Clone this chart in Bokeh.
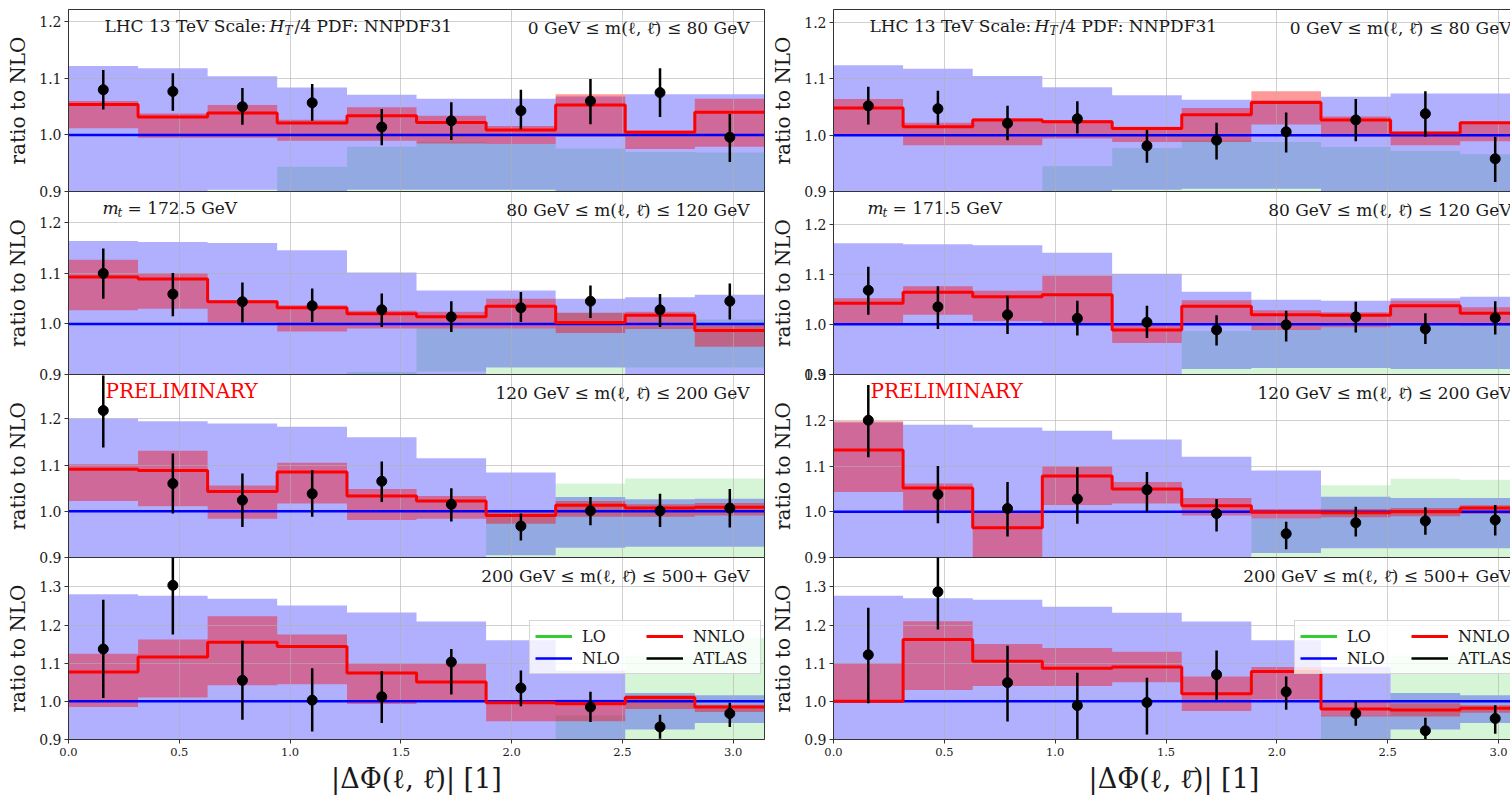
from bokeh.plotting import figure
from bokeh.layouts import row, column
from bokeh.models import (FixedTicker, NumeralTickFormatter, Label, Legend,
                          LegendItem, Range1d)
from bokeh.embed import file_html
from bokeh.resources import INLINE

# ---------------- data ----------------
bin_edges = [0.0, 0.314, 0.628, 0.942, 1.257, 1.571, 1.885, 2.199, 2.513, 2.827, 3.142]
bin_centers = [0.157, 0.471, 0.785, 1.100, 1.414, 1.728, 2.042, 2.356, 2.670, 2.985]
x_ticks = [0.0, 0.5, 1.0, 1.5, 2.0, 2.5, 3.0]
y_ticks_small = [0.9, 1.0, 1.1, 1.2]
y_ticks_large = [0.9, 1.0, 1.1, 1.2, 1.3]
mass_windows = ["0 GeV \u2264 m(\u2113, \u2113\u0304) \u2264 80 GeV",
                "80 GeV \u2264 m(\u2113, \u2113\u0304) \u2264 120 GeV",
                "120 GeV \u2264 m(\u2113, \u2113\u0304) \u2264 200 GeV",
                "200 GeV \u2264 m(\u2113, \u2113\u0304) \u2264 500+ GeV"]
top_mass = {"left": "= 172.5 GeV", "right": "= 171.5 GeV"}
legend_labels = ["LO", "NLO", "NNLO", "ATLAS"]

nlo_central = [1.0, 1.0, 1.0, 1.0, 1.0, 1.0, 1.0, 1.0, 1.0, 1.0]

# left column (m_t = 172.5 GeV), panels top -> bottom
left_nnlo = [
    [1.054, 1.032, 1.039, 1.021, 1.034, 1.022, 1.009, 1.053, 1.005, 1.040],
    [1.093, 1.089, 1.044, 1.032, 1.020, 1.014, 1.035, 1.003, 1.017, 0.987],
    [1.091, 1.088, 1.043, 1.085, 1.033, 1.022, 0.991, 1.013, 1.007, 1.009],
    [1.077, 1.116, 1.155, 1.144, 1.074, 1.051, 0.996, 0.994, 1.010, 0.985]]
left_nnlo_hi = [
    [1.060, 1.038, 1.053, 1.027, 1.049, 1.034, 1.016, 1.072, 1.008, 1.064],
    [1.127, 1.101, 1.047, 1.037, 1.026, 1.024, 1.050, 1.022, 1.024, 0.999],
    [1.102, 1.131, 1.056, 1.105, 1.048, 1.033, 1.002, 1.022, 1.015, 1.018],
    [1.125, 1.162, 1.223, 1.175, 1.099, 1.099, 1.000, 1.004, 1.016, 0.991]]
left_nnlo_lo = [
    [1.012, 0.995, 0.995, 0.990, 0.990, 0.985, 0.984, 0.997, 0.975, 0.979],
    [1.027, 1.030, 1.003, 0.985, 0.991, 0.991, 0.991, 0.982, 0.990, 0.955],
    [1.022, 1.011, 0.984, 1.017, 0.981, 0.984, 0.973, 0.988, 0.988, 0.991],
    [0.985, 1.010, 1.042, 1.045, 0.993, 1.000, 0.948, 0.948, 0.980, 0.972]]
left_nlo_hi = [
    [1.122, 1.118, 1.104, 1.084, 1.071, 1.064, 1.064, 1.068, 1.072, 1.072],
    [1.164, 1.162, 1.160, 1.146, 1.102, 1.066, 1.066, 1.050, 1.053, 1.058],
    [1.201, 1.195, 1.190, 1.183, 1.160, 1.115, 1.084, 1.031, 1.026, 1.027],
    [1.281, 1.277, 1.269, 1.251, 1.233, 1.209, 1.160, 1.080, 1.022, 1.016]]
left_nlo_lo = [
    [0.880, 0.880, 0.903, 0.880, 0.903, 0.903, 0.903, 0.880, 0.880, 0.880],
    [0.880, 0.880, 0.880, 0.880, 0.880, 0.880, 0.914, 0.914, 0.880, 0.880],
    [0.880, 0.880, 0.880, 0.880, 0.880, 0.880, 0.905, 0.921, 0.923, 0.923],
    [0.880, 0.880, 0.880, 0.880, 0.880, 0.880, 0.880, 0.880, 0.926, 0.943]]
left_lo_hi = [
    [0.880, 0.880, 0.903, 0.944, 0.979, 0.988, 0.984, 0.976, 0.970, 0.969],
    [0.880, 0.880, 0.880, 0.880, 0.905, 0.991, 0.991, 1.022, 0.995, 1.009],
    [0.880, 0.880, 0.880, 0.880, 0.880, 0.880, 0.998, 1.060, 1.071, 1.071],
    [0.880, 0.880, 0.880, 0.880, 0.880, 0.880, 0.880, 0.963, 1.120, 1.166]]
left_lo_lo = [
    [0.800, 0.800, 0.800, 0.800, 0.800, 0.800, 0.800, 0.800, 0.800, 0.800],
    [0.800, 0.800, 0.800, 0.800, 0.800, 0.906, 0.800, 0.800, 0.914, 0.914],
    [0.800, 0.800, 0.800, 0.800, 0.800, 0.800, 0.800, 0.800, 0.800, 0.800],
    [0.800, 0.800, 0.800, 0.800, 0.800, 0.800, 0.800, 0.800, 0.800, 0.800]]
left_atlas = [
    [1.080, 1.077, 1.050, 1.057, 1.014, 1.025, 1.043, 1.060, 1.075, 0.996],
    [1.100, 1.059, 1.044, 1.036, 1.028, 1.014, 1.032, 1.045, 1.028, 1.045],
    [1.218, 1.060, 1.024, 1.038, 1.065, 1.015, 0.968, 1.001, 1.001, 1.007],
    [1.137, 1.304, 1.055, 1.003, 1.012, 1.103, 1.035, 0.985, 0.933, 0.968]]
left_atlas_hi = [
    [1.115, 1.109, 1.083, 1.090, 1.046, 1.058, 1.080, 1.099, 1.118, 1.037],
    [1.149, 1.101, 1.082, 1.070, 1.060, 1.045, 1.063, 1.076, 1.059, 1.080],
    [1.294, 1.125, 1.082, 1.089, 1.108, 1.050, 0.995, 1.031, 1.038, 1.048],
    [1.266, 1.378, 1.159, 1.087, 1.079, 1.137, 1.081, 1.025, 0.965, 0.996]]
left_atlas_lo = [
    [1.045, 1.043, 1.018, 1.025, 0.982, 0.991, 1.010, 1.019, 1.032, 0.952],
    [1.050, 1.015, 1.003, 1.004, 0.994, 0.984, 1.004, 1.012, 0.994, 1.009],
    [1.138, 0.995, 0.966, 0.988, 1.020, 0.978, 0.937, 0.970, 0.966, 0.965],
    [1.009, 1.175, 0.952, 0.921, 0.943, 1.018, 0.987, 0.946, 0.902, 0.933]]

# right column (m_t = 171.5 GeV)
right_nnlo = [
    [1.048, 1.015, 1.027, 1.024, 1.012, 1.036, 1.058, 1.027, 1.004, 1.022],
    [1.042, 1.064, 1.055, 1.059, 0.989, 1.036, 1.019, 1.018, 1.037, 1.022],
    [1.135, 1.052, 0.965, 1.078, 1.050, 1.013, 0.999, 0.998, 1.000, 1.008],
    [1.000, 1.162, 1.105, 1.087, 1.090, 1.020, 1.078, 0.980, 0.977, 0.982]]
right_nnlo_hi = [
    [1.064, 1.022, 1.030, 1.027, 1.015, 1.048, 1.078, 1.033, 1.006, 1.024],
    [1.052, 1.076, 1.067, 1.097, 1.001, 1.048, 1.028, 1.024, 1.047, 1.034],
    [1.198, 1.062, 1.000, 1.100, 1.065, 1.030, 1.006, 1.006, 1.008, 1.014],
    [1.100, 1.210, 1.150, 1.140, 1.130, 1.065, 1.090, 1.000, 0.995, 0.990]]
right_nnlo_lo = [
    [1.000, 0.982, 0.982, 0.994, 0.988, 0.988, 1.019, 0.997, 0.982, 0.989],
    [1.001, 1.019, 1.006, 1.001, 0.963, 1.001, 0.989, 0.994, 1.001, 0.997],
    [1.043, 0.998, 0.890, 1.015, 1.018, 0.992, 0.985, 0.988, 0.990, 0.995],
    [0.998, 1.030, 1.040, 1.040, 1.050, 0.975, 1.005, 0.960, 0.960, 0.970]]
right_nlo_hi = [
    [1.124, 1.118, 1.105, 1.085, 1.071, 1.063, 1.062, 1.068, 1.074, 1.074],
    [1.162, 1.160, 1.158, 1.143, 1.101, 1.065, 1.049, 1.047, 1.052, 1.055],
    [1.195, 1.190, 1.184, 1.177, 1.158, 1.120, 1.090, 1.033, 1.030, 1.030],
    [1.277, 1.270, 1.266, 1.248, 1.232, 1.209, 1.160, 1.090, 1.022, 1.016]]
right_nlo_lo = [
    [0.880, 0.880, 0.880, 0.880, 0.903, 0.905, 0.905, 0.880, 0.880, 0.880],
    [0.880, 0.880, 0.880, 0.880, 0.880, 0.911, 0.913, 0.913, 0.911, 0.911],
    [0.880, 0.880, 0.880, 0.880, 0.880, 0.880, 0.910, 0.920, 0.920, 0.920],
    [0.880, 0.880, 0.880, 0.880, 0.880, 0.880, 0.880, 0.880, 0.926, 0.943]]
right_lo_hi = [
    [0.880, 0.880, 0.880, 0.945, 0.977, 0.991, 0.988, 0.979, 0.972, 0.966],
    [0.880, 0.880, 0.880, 0.880, 0.880, 0.987, 0.989, 0.994, 1.000, 0.997],
    [0.880, 0.880, 0.880, 0.880, 0.880, 0.880, 0.985, 1.058, 1.072, 1.070],
    [0.880, 0.880, 0.880, 0.880, 0.880, 0.880, 0.880, 0.963, 1.120, 1.170]]
right_lo_lo = [
    [0.800, 0.800, 0.800, 0.800, 0.800, 0.800, 0.800, 0.800, 0.800, 0.800],
    [0.800, 0.800, 0.800, 0.800, 0.800, 0.800, 0.800, 0.800, 0.800, 0.800],
    [0.800, 0.800, 0.800, 0.800, 0.800, 0.800, 0.800, 0.800, 0.800, 0.800],
    [0.800, 0.800, 0.800, 0.800, 0.800, 0.800, 0.800, 0.800, 0.800, 0.800]]
right_atlas = [
    [1.052, 1.047, 1.021, 1.029, 0.981, 0.991, 1.006, 1.027, 1.038, 0.958],
    [1.068, 1.035, 1.019, 1.012, 1.004, 0.989, 0.999, 1.015, 0.991, 1.013],
    [1.200, 1.038, 1.007, 1.028, 1.048, 0.996, 0.952, 0.976, 0.980, 0.982],
    [1.122, 1.287, 1.049, 0.989, 0.997, 1.070, 1.025, 0.968, 0.923, 0.955]]
right_atlas_hi = [
    [1.086, 1.079, 1.052, 1.060, 1.009, 1.022, 1.040, 1.064, 1.078, 0.997],
    [1.115, 1.076, 1.057, 1.047, 1.037, 1.018, 1.027, 1.045, 1.022, 1.046],
    [1.277, 1.100, 1.065, 1.097, 1.087, 1.028, 0.978, 1.011, 1.010, 1.015],
    [1.245, 1.378, 1.146, 1.075, 1.062, 1.133, 1.065, 1.000, 0.957, 0.990]]
right_atlas_lo = [
    [1.019, 1.018, 0.991, 1.003, 0.951, 0.957, 0.969, 0.989, 0.997, 0.917],
    [1.019, 0.991, 0.981, 0.978, 0.973, 0.958, 0.966, 0.984, 0.961, 0.980],
    [1.119, 0.975, 0.946, 0.974, 1.000, 0.957, 0.918, 0.946, 0.950, 0.948],
    [0.995, 1.188, 0.947, 0.900, 0.913, 1.004, 0.978, 0.936, 0.900, 0.915]]

left_ymax = [1.222, 1.262, 1.296, 1.377]
right_ymax = [1.223, 1.265, 1.300, 1.377]

DATA = {
    "left": dict(nnlo=left_nnlo, nnlo_hi=left_nnlo_hi, nnlo_lo=left_nnlo_lo,
                 nlo_hi=left_nlo_hi, nlo_lo=left_nlo_lo, lo_hi=left_lo_hi,
                 lo_lo=left_lo_lo, atlas=left_atlas, atlas_hi=left_atlas_hi,
                 atlas_lo=left_atlas_lo, ymax=left_ymax),
    "right": dict(nnlo=right_nnlo, nnlo_hi=right_nnlo_hi, nnlo_lo=right_nnlo_lo,
                  nlo_hi=right_nlo_hi, nlo_lo=right_nlo_lo, lo_hi=right_lo_hi,
                  lo_lo=right_lo_lo, atlas=right_atlas, atlas_hi=right_atlas_hi,
                  atlas_lo=right_atlas_lo, ymax=right_ymax),
}

# ---------------- style ----------------
FONT = "DejaVu Serif"
TXT = "#1a1a1a"
FRAME_H = [182, 183, 183, 182]
C_LO, C_NLO, C_NNLO = "limegreen", "#0000ff", "#ff0000"
NAN = float("nan")


def step_xy(vals):
    xs, ys = [], []
    for i, v in enumerate(vals):
        xs += [bin_edges[i], bin_edges[i + 1]]
        ys += [v, v]
    return xs, ys


def lab(p, text, x, y, size="17px", style="normal", align="left", color=TXT):
    p.add_layout(Label(x=x, y=y, x_units="screen", y_units="screen", text=text,
                       text_font=FONT, text_font_size=size, text_font_style=style,
                       text_align=align, text_baseline="top", text_color=color))


def mass_label(p, text, xr, y):
    # split so that the mass variable "m" is italic, as in the original
    pre, post = text.split(" m", 1)
    lab(p, pre + " m" + post, xr, y, align="right")


def build(side, k):
    d = DATA[side]
    is_left = side == "left"
    fw = 696 if is_left else 681
    xmax = 3.1416 if is_left else 3.072
    fh = FRAME_H[k]
    p = figure(frame_width=fw, frame_height=fh,
               x_range=Range1d(0, xmax), y_range=Range1d(0.9, d["ymax"][k]),
               min_border_left=68 if is_left else 61,
               min_border_right=4 if is_left else 0,
               min_border_top=9 if k == 0 else 10,
               min_border_bottom=57 if k == 3 else 10,
               output_backend="svg", toolbar_location=None,
               border_fill_color=None, background_fill_color="white",
               outline_line_color="#333333", outline_line_width=1)
    if k > 0:
        p.margin = (-20, 0, 0, 0)

    # bands
    xs, lo1 = step_xy(d["lo_lo"][k]); _, lo2 = step_xy(d["lo_hi"][k])
    p.varea(x=xs, y1=lo1, y2=lo2, fill_color=C_LO, fill_alpha=0.2, level="image")
    _, n1 = step_xy(d["nlo_lo"][k]); _, n2 = step_xy(d["nlo_hi"][k])
    p.varea(x=xs, y1=n1, y2=n2, fill_color=C_NLO, fill_alpha=0.31, level="image")
    _, r1 = step_xy(d["nnlo_lo"][k]); _, r2 = step_xy(d["nnlo_hi"][k])
    p.varea(x=xs, y1=r1, y2=r2, fill_color=C_NNLO, fill_alpha=0.4, level="image")

    # central lines (LO central line is only a legend proxy, as in the original)
    lo_proxy = p.line(x=[NAN], y=[NAN], line_color=C_LO, line_width=3)
    _, nc = step_xy(nlo_central)
    nlo_r = p.line(x=xs, y=nc, line_color=C_NLO, line_width=2.5)
    _, rc = step_xy(d["nnlo"][k])
    nnlo_r = p.line(x=xs, y=rc, line_color=C_NNLO, line_width=3)

    # ATLAS data
    err_r = p.segment(x0=bin_centers, x1=bin_centers, y0=d["atlas_lo"][k],
                      y1=d["atlas_hi"][k], line_color="black", line_width=2.5)
    p.scatter(x=bin_centers, y=d["atlas"][k], size=10, color="black")

    # axes
    yt = FixedTicker(ticks=y_ticks_large if (k == 3 or (k == 2 and not is_left)) else y_ticks_small)
    p.yaxis.ticker = yt
    p.ygrid.ticker = yt
    xt = FixedTicker(ticks=x_ticks)
    p.xaxis.ticker = xt
    p.xgrid.ticker = xt
    for ax in p.axis:
        ax.formatter = NumeralTickFormatter(format="0.0")
        ax.major_tick_out = 4
        ax.major_tick_in = 0
        ax.minor_tick_out = 0
        ax.minor_tick_in = 0
        ax.axis_line_color = "#333333"
        ax.major_tick_line_color = "#333333"
        ax.major_label_text_font = FONT
        ax.major_label_text_color = TXT
        ax.axis_label_text_font = FONT
        ax.axis_label_text_font_style = "normal"
        ax.axis_label_text_color = TXT
    p.yaxis.major_label_text_font_size = "14px"
    p.yaxis.major_label_standoff = 3
    p.yaxis.axis_label = "ratio to NLO"
    p.yaxis.axis_label_text_font_size = "20px"
    p.yaxis.axis_label_standoff = 6
    p.xaxis.major_label_text_font_size = "11.5px"
    p.xaxis.major_label_standoff = 4
    if k == 3:
        p.xaxis.axis_label = "|\u0394\u03a6(\u2113, \u2113\u0304)| [1]"
        p.xaxis.axis_label_text_font_size = "27px"
        p.xaxis.axis_label_standoff = 4
    else:
        p.xaxis.visible = False
    for g in p.grid:
        g.grid_line_color = "#b0b0b0"
        g.grid_line_alpha = 0.6
        g.grid_line_width = 1

    # texts
    rx = fw - 15 if is_left else fw - 3
    mass_label(p, mass_windows[k], rx, fh - 8)
    if k == 0:
        lab(p, "LHC 13 TeV Scale:", 36, fh - 6)
        lab(p, "H", 201, fh - 6, style="italic")
        lab(p, "T", 216, fh - 14, size="12px", style="italic")
        lab(p, "/4 PDF: NNPDF31", 226, fh - 6)
    if k == 1:
        lab(p, "m", 34, fh - 6, style="italic")
        lab(p, "t", 49, fh - 14, size="12px", style="italic")
        lab(p, top_mass[side], 59, fh - 6)
    if k == 2:
        lab(p, "PRELIMINARY", 37, fh - 4, size="20px", color="#ff0000")
    if k == 3:
        leg = Legend(items=[LegendItem(label=legend_labels[0], renderers=[lo_proxy]),
                            LegendItem(label=legend_labels[1], renderers=[nlo_r]),
                            LegendItem(label=legend_labels[2], renderers=[nnlo_r]),
                            LegendItem(label=legend_labels[3], renderers=[err_r])],
                     location=(461, 65), orientation="vertical", nrows=2,
                     label_text_font=FONT, label_text_font_size="16px",
                     label_text_color=TXT, glyph_width=37, glyph_height=20,
                     label_height=20, label_width=62, label_standoff=10,
                     spacing=2, padding=5, margin=0,
                     background_fill_color="white", background_fill_alpha=0.8,
                     border_line_color="#cccccc", border_line_alpha=0.8)
        p.add_layout(leg)
    return p


left_col = column([build("left", k) for k in range(4)])
right_col = column([build("right", k) for k in range(4)])
layout = row(left_col, right_col)

open("out.html", "w").write(file_html(layout, INLINE))
